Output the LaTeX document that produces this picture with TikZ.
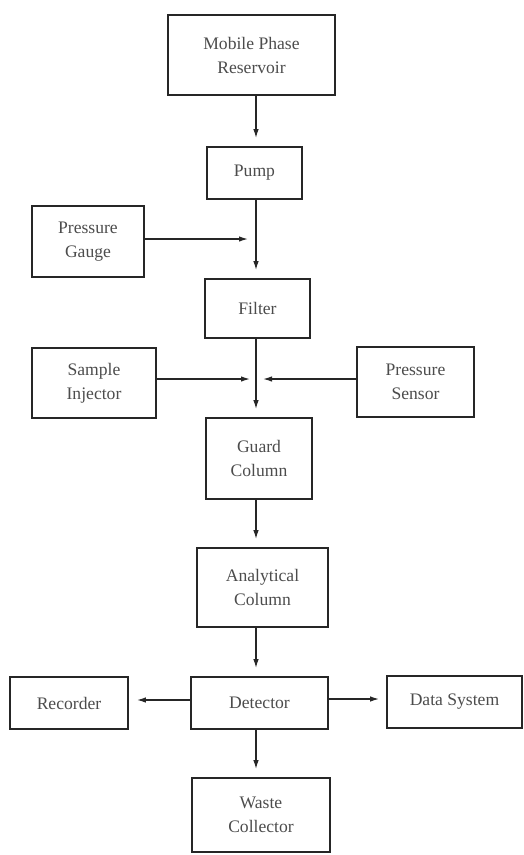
\documentclass[tikz,border=0pt]{standalone}
\usepackage{fontspec}
\setmainfont{Liberation Serif}
\usetikzlibrary{arrows.meta}
\begin{document}
\begin{tikzpicture}[x=1pt,y=-1pt,
  blk/.style={draw=black!85, line width=1.8pt, text=black!70, align=center, inner sep=0pt, font=\fontsize{17.6}{24}\selectfont},
  arr/.style={draw=black!85, line width=1.3pt, -{Latex[length=9pt,width=5.5pt]}, shorten >=8pt}]
\useasboundingbox (0,0) rectangle (524,855);
\node[blk, minimum width=167pt, minimum height=80pt] (res) at (251.5,55) {Mobile Phase\\Reservoir};
\node[blk, minimum width=95pt, minimum height=52pt] (pump) at (254.5,173) {Pump};
\node[blk, minimum width=112pt, minimum height=71pt] (gauge) at (88,241.5) {Pressure\\Gauge};
\node[blk, minimum width=105pt, minimum height=59pt] (filter) at (257.5,308.5) {Filter};
\node[blk, minimum width=124pt, minimum height=70pt] (inj) at (94,383) {Sample\\Injector};
\node[blk, minimum width=117pt, minimum height=70pt] (sensor) at (415.5,382) {Pressure\\Sensor};
\node[blk, minimum width=106pt, minimum height=81pt] (guard) at (259,458.5) {Guard\\Column};
\node[blk, minimum width=131pt, minimum height=79pt] (anal) at (262.5,587.5) {Analytical\\Column};
\node[blk, minimum width=118pt, minimum height=52pt] (rec) at (69,703) {Recorder};
\node[blk, minimum width=137pt, minimum height=52pt] (det) at (259.5,703) {Detector};
\node[blk, minimum width=135pt, minimum height=52pt] (data) at (454.5,702) {Data System};
\node[blk, minimum width=138pt, minimum height=74pt] (waste) at (261,815) {Waste\\Collector};
\coordinate (ax) at (256,0);
\coordinate (j1) at (256,239);
\coordinate (j2) at (256,379);
\draw[arr] (res.south -| ax) -- (pump.north -| ax);
\draw[arr] (pump.south -| ax) -- (filter.north -| ax);
\draw[arr] (filter.south -| ax) -- (guard.north -| ax);
\draw[arr] (guard.south -| ax) -- (anal.north -| ax);
\draw[arr] (anal.south -| ax) -- (det.north -| ax);
\draw[arr] (det.south -| ax) -- (waste.north -| ax);
\draw[arr] (gauge.east |- j1) -- (j1);
\draw[arr, shorten >=6pt] (inj.east |- j2) -- (j2);
\draw[arr, shorten >=7pt] (sensor.west |- j2) -- (j2);
\draw[arr] (det.west |- 0,700) -- (rec.east |- 0,700);
\draw[arr, shorten >=7pt] (det.east |- 0,699) -- (data.west |- 0,699);
\end{tikzpicture}
\end{document}
